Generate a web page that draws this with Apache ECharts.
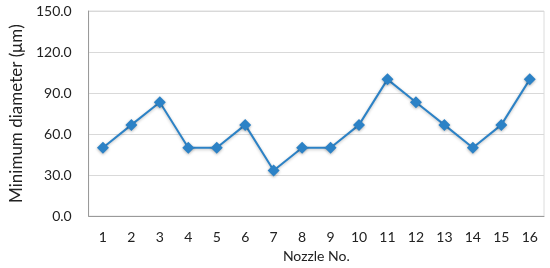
<!DOCTYPE html>
<html>
<head>
<meta charset="utf-8">
<script src="https://cdn.jsdelivr.net/npm/echarts@6/dist/echarts.min.js"></script>
<style>
  html, body { margin: 0; padding: 0; background: #fff; }
  #main { width: 550px; height: 268px; }
</style>
</head>
<body>
<div id="main"></div>
<script>
// data
var nozzles = ['1', '2', '3', '4', '5', '6', '7', '8', '9', '10', '11', '12', '13', '14', '15', '16'];
var minDiameter = [50, 66.7, 83.3, 50, 50, 66.7, 33.3, 50, 50, 66.7, 100, 83.3, 66.7, 50, 66.7, 100];

var font = 'Lato, "Open Sans", sans-serif';
var myChart = echarts.init(document.getElementById('main'));

var option = {
  animation: false,
  grid: {
    left: 76, right: 6, top: 11, bottom: 46,
    show: true, borderColor: '#dcdcdc', borderWidth: 1
  },
  xAxis: {
    type: 'category',
    data: nozzles,
    boundaryGap: true,
    name: 'Nozzle No.',
    nameLocation: 'middle',
    nameGap: 30,
    nameTextStyle: { fontFamily: font, fontSize: 14, color: '#222' },
    axisLine: { lineStyle: { color: '#9a9a9a', width: 1 } },
    axisTick: { show: false },
    axisLabel: { fontFamily: font, fontSize: 14, color: '#222', margin: 14 }
  },
  yAxis: {
    type: 'value',
    min: 0, max: 150, interval: 30,
    name: 'Minimum diameter (μm)',
    nameLocation: 'middle',
    nameGap: 58,
    nameTextStyle: { fontFamily: font, fontSize: 17, color: '#222' },
    axisLine: { show: true, lineStyle: { color: '#9a9a9a', width: 1 } },
    axisTick: { show: false },
    axisLabel: {
      fontFamily: font, fontSize: 14, color: '#222', margin: 17,
      formatter: function (v) { return v.toFixed(1); }
    },
    splitLine: { lineStyle: { color: '#d9d9d9', width: 1 } }
  },
  series: [{
    type: 'line',
    data: minDiameter,
    symbol: 'diamond',
    symbolSize: 12,
    lineStyle: { color: '#2c82c6', width: 2, shadowColor: 'rgba(0,0,0,0.25)', shadowBlur: 3, shadowOffsetY: 1 },
    itemStyle: { color: '#2c82c6', shadowColor: 'rgba(0,0,0,0.3)', shadowBlur: 3, shadowOffsetY: 1 }
  }]
};

myChart.setOption(option);
</script>
</body>
</html>
